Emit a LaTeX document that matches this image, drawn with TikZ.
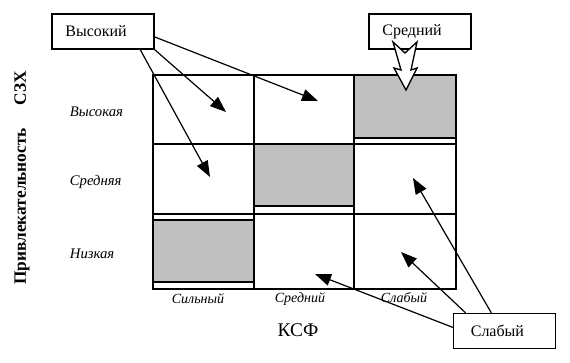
\documentclass[tikz,border=0pt]{standalone}
\usepackage{fontspec}
\setmainfont{Liberation Serif}
\usetikzlibrary{arrows.meta}

\tikzset{every picture/.style={line width=0.75pt}}
\definecolor{cellgray}{RGB}{192,192,192}
\tikzset{
	gridline/.style={line width=1.1pt},
	shadedcell/.style={line width=1.1pt, fill=cellgray},
	labelbox/.style={draw, line width=1pt, fill=white, minimum width=76.5pt, minimum height=26.25pt, inner xsep=10pt, text width=56.5pt, align=left, font=\fontsize{12}{14}\selectfont},
	pointer/.style={line width=0.9pt, -{Triangle[length=12pt,width=9pt]}},
	rowlabel/.style={anchor=west, font=\itshape\fontsize{11}{13}\selectfont},
	collabel/.style={font=\itshape\fontsize{10.5}{12}\selectfont}
}

\begin{document}
\begin{tikzpicture}[x=0.75pt,y=0.75pt,yscale=-1,xscale=1]
	\useasboundingbox (0,0) rectangle (570,363);

	%Shape: Rectangle [matrix]
	\draw [gridline] (153,75) rectangle (456,289) ;
	%Straight Lines [columns]
	\draw [gridline] (254,75) -- (254,289) ;
	\draw [gridline] (354,75) -- (354,289) ;
	%Straight Lines [rows]
	\draw [gridline] (153,144) -- (456,144) ;
	\draw [gridline] (153,214) -- (456,214) ;
	%Shape: Rectangle [shaded cells]
	\draw [shadedcell] (354,75) rectangle (456,138) ;
	\draw [shadedcell] (254,144) rectangle (354,206) ;
	\draw [shadedcell] (153,220) rectangle (254,282) ;

	% Text Node
	\node [labelbox] (vys) at (103,31.5) {Высокий};
	% Text Node
	\node [labelbox] (sred) at (420,31.5) {Средний};
	% Text Node
	\node [labelbox, inner xsep=13pt, text width=50.5pt] (sla) at (504.5,331) {Слабый};

	%Arrow ends
	\coordinate (t1) at (226,112) ;
	\coordinate (t2) at (318,101) ;
	\coordinate (t3) at (210,177) ;
	\coordinate (t4) at (315,274) ;
	\coordinate (t5) at (401,252) ;
	\coordinate (t6) at (413,178) ;

	%Straight Lines
	\draw [pointer] (vys.south east) -- (t1) ;
	\draw [pointer] (vys.-6) -- (t2) ;
	\draw [pointer] (vys.-26) -- (t3) ;
	\draw [pointer] (sla.176) -- (t4) ;
	\draw [pointer] (sla.155) -- (t5) ;
	\draw [pointer] (sla.126) -- (t6) ;

	%Shape: Notched Arrow
	\draw [line width=1pt, fill=white, line join=miter] (393,42) -- (405,53) -- (417,42) -- (411,70) -- (417,68) -- (406,90) -- (394,68) -- (401,70) -- cycle ;

	% Text Node
	\node [rowlabel] (hi) at (65,112) {Высокая};
	% Text Node
	\node [rowlabel] (mid) at (65,182) {Средняя};
	% Text Node
	\node [rowlabel] (lo) at (65,254) {Низкая};
	% Text Node
	\node [collabel] (strong) at (198,299) {Сильный};
	% Text Node
	\node [collabel] (medium) at (300,299) {Средний};
	% Text Node
	\node [collabel] (weak) at (404,298) {Слабый};
	% Text Node
	\node [font=\fontsize{14.5}{17}\selectfont] (ksf) at (298,330) {КСФ};
	% Text Node
	\node [rotate=90, font=\bfseries\fontsize{13}{15}\selectfont] (szx) at (22,178) {Привлекательность\hspace{1.3em}СЗХ};

\end{tikzpicture}
\end{document}
